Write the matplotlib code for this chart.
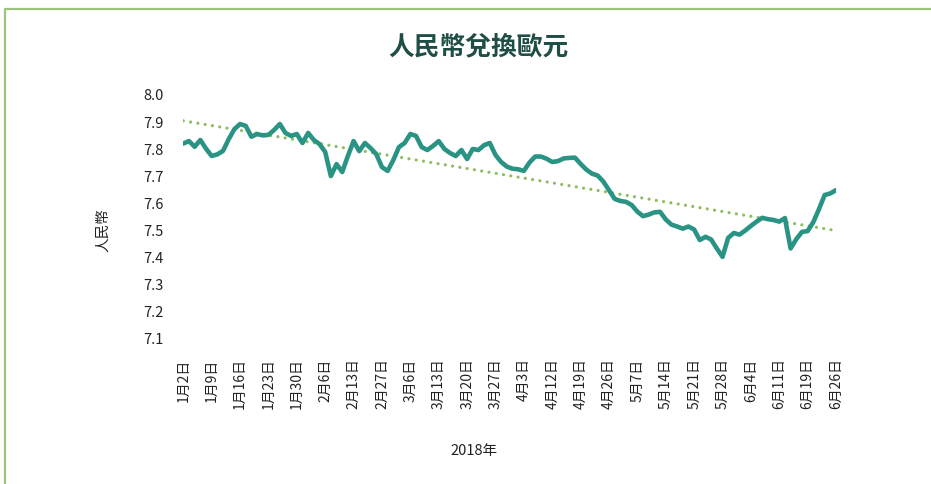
import numpy as np
import matplotlib.pyplot as plt
from matplotlib.lines import Line2D

plt.rcParams['font.family'] = ['Noto Sans CJK TC', 'DejaVu Sans']

# 人民幣兌換歐元, 2018 trading days
rate = [7.821, 7.830, 7.809, 7.834, 7.802, 7.775, 7.781, 7.794, 7.837, 7.874,
        7.893, 7.886, 7.846, 7.856, 7.851, 7.853, 7.871, 7.893, 7.860, 7.849,
        7.856, 7.823, 7.860, 7.834, 7.819, 7.790, 7.701, 7.745, 7.716, 7.775,
        7.830, 7.793, 7.823, 7.804, 7.782, 7.734, 7.720, 7.760, 7.808, 7.823,
        7.856, 7.849, 7.808, 7.797, 7.812, 7.830, 7.801, 7.786, 7.775, 7.797,
        7.764, 7.801, 7.797, 7.815, 7.823, 7.779, 7.753, 7.736, 7.728, 7.726,
        7.720, 7.751, 7.773, 7.773, 7.765, 7.753, 7.756, 7.766, 7.768, 7.769,
        7.746, 7.725, 7.710, 7.703, 7.681, 7.649, 7.617, 7.609, 7.606, 7.594,
        7.570, 7.553, 7.559, 7.567, 7.569, 7.541, 7.522, 7.515, 7.507, 7.515,
        7.504, 7.465, 7.477, 7.467, 7.434, 7.403, 7.473, 7.491, 7.485, 7.500,
        7.517, 7.533, 7.547, 7.542, 7.539, 7.533, 7.546, 7.434, 7.468, 7.495,
        7.498, 7.531, 7.579, 7.631, 7.637, 7.649]

tick_labels = ['1月2日', '1月9日', '1月16日', '1月23日', '1月30日', '2月6日',
               '2月13日', '2月27日', '3月6日', '3月13日', '3月20日', '3月27日',
               '4月3日', '4月12日', '4月19日', '4月26日', '5月7日', '5月14日',
               '5月21日', '5月28日', '6月4日', '6月11日', '6月19日', '6月26日']
tick_step = 5

y_ticks = [7.1, 7.2, 7.3, 7.4, 7.5, 7.6, 7.7, 7.8, 7.9, 8.0]

x = np.arange(len(rate))
coef = np.polyfit(x, rate, 1)
trend = np.polyval(coef, x)

fig = plt.figure(figsize=(9.31, 4.84), dpi=100)
ax = fig.add_axes([183.3 / 931, (484 - 339) / 484, (836 - 183.3) / 931, (339 - 95) / 484])

ax.plot(x, trend, color='#8dbd5f', lw=2.3, linestyle=(0, (0.01, 2.3)),
        dash_capstyle='round', zorder=2)
ax.plot(x, rate, color='#2a9484', lw=3.3, solid_joinstyle='round',
        solid_capstyle='round', zorder=3)

ax.set_xlim(0, len(rate) - 1)
ax.set_ylim(7.1, 8.0)
ax.set_yticks(y_ticks)
ax.set_yticklabels(['%.1f' % v for v in y_ticks], fontsize=10.5, color='#222222')
ax.set_xticks(x[::tick_step])
ax.set_xticklabels(tick_labels, rotation=90, fontsize=10, color='#222222')
ax.tick_params(axis='x', length=0, pad=14)
ax.tick_params(axis='y', length=0, pad=14)
for s in ax.spines.values():
    s.set_visible(False)

fig.text(478 / 931, 1 - 47 / 484, '人民幣兌換歐元', ha='center', va='center',
         fontsize=18.5, fontweight='heavy', color='#1f4e46')
fig.text(103 / 931, 1 - 230 / 484, '人民幣', rotation=90, ha='center', va='center',
         fontsize=10.5, color='#222222')
fig.text(474 / 931, 1 - 451 / 484, '2018年', ha='center', va='center',
         fontsize=10.5, color='#222222')

# outer frame (top and left edges visible)
fig.add_artist(Line2D([5 / 931, 5 / 931, 1.0], [0.0, 1 - 9 / 484, 1 - 9 / 484],
                      transform=fig.transFigure, color='#9cc47a', lw=1.6))

fig.savefig('out.png', dpi=100)
